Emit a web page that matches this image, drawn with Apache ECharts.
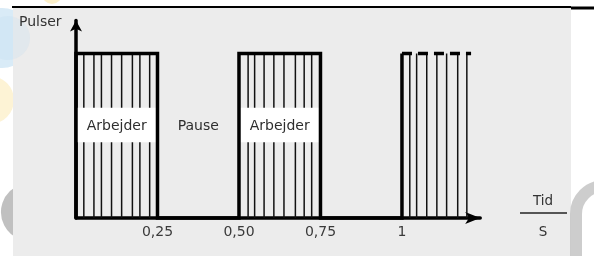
<!DOCTYPE html>
<html><head><meta charset="utf-8">
<script src="https://cdn.jsdelivr.net/npm/echarts@6/dist/echarts.min.js"></script>
<style>html,body{margin:0;padding:0;background:#fff}#c{width:594px;height:256px}</style>
</head><body><div id="c"></div>
<script>
// ---- data ----
const tickValues = [0.25, 0.5, 0.75, 1];
const tickLabels = ['0,25', '0,50', '0,75', '1'];
const outlineX = [0, 0, 0.25, 0.25, 0.5, 0.5, 0.75, 0.75, 1, 1];
const outlineY = [0, 1, 1, 0, 0, 1, 1, 0, 0, 1];
const dashedTopX = [1, 1.212];
const pulseLines1 = [0.024, 0.055, 0.078, 0.109, 0.140, 0.173, 0.196, 0.226];
const pulseLines2 = [0.528, 0.548, 0.577, 0.607, 0.638, 0.673, 0.700, 0.723];
const pulseLines3 = [1.024, 1.045, 1.076, 1.107, 1.137, 1.171, 1.199];
const phaseNames = ['Arbejder', 'Pause', 'Arbejder'];
const phaseCenters = [0.125, 0.375, 0.625];
const boxStarts = [0, 0.5];
const boxEnds = [0.25, 0.75];
const boxLow = 0.46, boxHigh = 0.67, phaseLabelY = 0.555;
const yName = 'Pulser', xNameTop = 'Tid', xNameBottom = 'S';

// ---- chart ----
const FONT = 'DejaVu Sans';
const chart = echarts.init(document.getElementById('c'), null, {renderer: 'canvas'});
const allLines = [].concat(pulseLines1, pulseLines2, pulseLines3).map(x => [x, 0]);

const option = {
  animation: false,
  backgroundColor: '#ffffff',
  grid: {left: 76, right: 113.8, top: 20.6, bottom: 38, containLabel: false, outerBoundsMode: 'none'},
  xAxis: {
    type: 'value', min: 0, max: 1.24, interval: 0.25,
    axisLine: {show: true, onZero: false, lineStyle: {color: '#000', width: 3.5}, symbol: ['none', 'arrow'], symbolSize: [9, 15]},
    axisTick: {show: false}, splitLine: {show: false},
    axisLabel: {
      customValues: tickValues, margin: 7, color: '#3a3a3a', fontSize: 14, fontFamily: FONT,
      formatter: v => { const i = tickValues.findIndex(t => Math.abs(t - v) < 1e-6); return i >= 0 ? tickLabels[i] : ''; }
    }
  },
  yAxis: {
    type: 'value', min: 0, max: 1.2,
    axisLine: {show: true, lineStyle: {color: '#000', width: 3.5}, symbol: ['none', 'arrow'], symbolSize: [9, 11]},
    axisTick: {show: false}, splitLine: {show: false}, axisLabel: {show: false}
  },
  graphic: [
    {type: 'circle', z: -30, silent: true, shape: {cx: 2, cy: 38, r: 30}, style: {fill: 'rgba(185,218,240,0.55)'}},
    {type: 'circle', z: -30, silent: true, shape: {cx: -10, cy: 100, r: 24}, style: {fill: 'rgba(250,225,150,0.4)'}},
    {type: 'circle', z: -30, silent: true, shape: {cx: 52, cy: -6, r: 10}, style: {fill: 'rgba(250,225,150,0.5)'}},
    {type: 'arc', z: -30, silent: true, shape: {cx: 30, cy: 212, r: 22, startAngle: Math.PI * 0.6, endAngle: Math.PI * 1.4}, style: {stroke: 'rgba(185,185,185,0.9)', lineWidth: 14, fill: null}},
    {type: 'rect', z: -20, silent: true, shape: {x: 13, y: 8, width: 558, height: 248}, style: {fill: '#ececec'}},
    {type: 'circle', z: -15, silent: true, shape: {cx: 8, cy: 38, r: 22}, style: {fill: 'rgba(190,220,240,0.25)'}},
    {type: 'line', z: 10, silent: true, shape: {x1: 12, y1: 7, x2: 571, y2: 7}, style: {stroke: '#000', lineWidth: 2}},
    {type: 'line', z: 10, silent: true, shape: {x1: 571, y1: 8, x2: 594, y2: 8}, style: {stroke: '#000', lineWidth: 3}},
    {type: 'arc', z: 10, silent: true, shape: {cx: 604, cy: 214, r: 28, startAngle: Math.PI, endAngle: Math.PI * 2}, style: {stroke: 'rgba(200,200,200,0.9)', lineWidth: 12, fill: null}},
    {type: 'line', z: 10, silent: true, shape: {x1: 576, y1: 214, x2: 576, y2: 256}, style: {stroke: 'rgba(200,200,200,0.9)', lineWidth: 12}},
    {type: 'text', z: 10, silent: true, style: {x: 19, y: 22, text: yName, font: '14px "' + FONT + '"', fill: '#333', textVerticalAlign: 'middle'}},
    {type: 'text', z: 10, silent: true, style: {x: 543, y: 201, text: xNameTop, font: '13.5px "' + FONT + '"', fill: '#333', textAlign: 'center', textVerticalAlign: 'middle'}},
    {type: 'line', z: 10, silent: true, shape: {x1: 520, y1: 213, x2: 567, y2: 213}, style: {stroke: '#555', lineWidth: 2}},
    {type: 'text', z: 10, silent: true, style: {x: 543, y: 232, text: xNameBottom, font: '13.5px "' + FONT + '"', fill: '#333', textAlign: 'center', textVerticalAlign: 'middle'}}
  ],
  series: [
    {
      type: 'custom', z: 2, silent: true, data: allLines, encode: {x: 0, y: 1},
      renderItem: (params, api) => {
        const x = api.value(0);
        const p0 = api.coord([x, 0]), p1 = api.coord([x, 1]);
        return {type: 'line', shape: {x1: p0[0], y1: p0[1], x2: p1[0], y2: p1[1]}, style: {stroke: '#111', lineWidth: 1.5}};
      }
    },
    {
      type: 'custom', z: 3, silent: true, data: boxStarts.map((s, i) => [s, boxEnds[i]]), encode: {x: [0, 1]},
      renderItem: (params, api) => {
        const a = api.coord([api.value(0), boxHigh]), b = api.coord([api.value(1), boxLow]);
        return {type: 'rect', shape: {x: a[0], y: a[1], width: b[0] - a[0], height: b[1] - a[1]}, style: {fill: '#ffffff'}};
      }
    },
    {
      type: 'line', z: 4, silent: true, symbol: 'none', clip: false,
      data: outlineX.map((x, i) => [x, outlineY[i]]),
      lineStyle: {color: '#000', width: 3.5, join: 'miter', cap: 'butt'}
    },
    {
      type: 'line', z: 4, silent: true, symbol: 'none', clip: false,
      data: dashedTopX.map(x => [x, 1]),
      lineStyle: {color: '#000', width: 3.5, type: [10, 6]}
    },
    {
      type: 'custom', z: 5, silent: true, data: phaseCenters.map((x, i) => [x, phaseLabelY, i]), encode: {x: 0, y: 1},
      renderItem: (params, api) => {
        const p = api.coord([api.value(0), api.value(1)]);
        return {type: 'text', style: {x: p[0], y: p[1], text: phaseNames[api.value(2)], font: '14px "' + FONT + '"', fill: '#2e2e2e', textAlign: 'center', textVerticalAlign: 'middle'}};
      }
    }
  ]
};
chart.setOption(option);
</script>
</body></html>
